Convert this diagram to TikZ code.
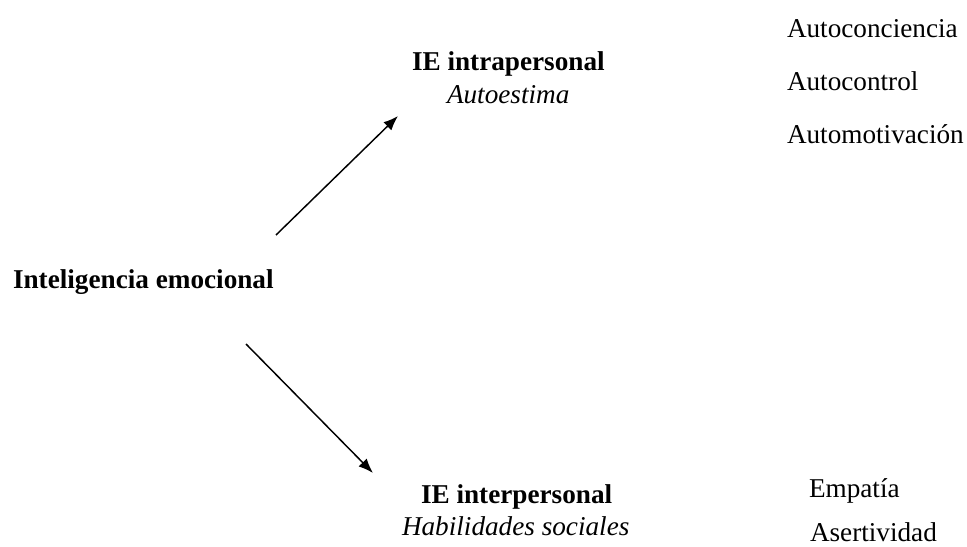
\documentclass[tikz,border=0pt]{standalone}
\usepackage{fontspec}
\setmainfont{Liberation Serif}
\usetikzlibrary{arrows.meta}
\tikzset{
  lbl/.style={anchor=base west, inner sep=0pt, outer sep=0pt, font=\fontsize{20.4}{24}\selectfont},
  hd/.style={lbl, font=\fontsize{20.4}{24}\selectfont\bfseries},
  sub/.style={lbl, font=\fontsize{20.4}{24}\selectfont\itshape},
  conn/.style={line width=1.1pt, -{Latex[length=11pt,width=8.5pt]}}
}
\begin{document}
\begin{tikzpicture}[x=0.75pt,y=-0.75pt]
\useasboundingbox (0,0) rectangle (967,546);
\node[hd] (ie) at (13,288) {Inteligencia emocional};
\node[hd] (intra) at (412,70) {IE intrapersonal};
\node[sub] (autoest) at (447,103) {Autoestima};
\node[hd] (inter) at (421,503) {IE interpersonal};
\node[sub] (habil) at (402,535) {Habilidades sociales};
\node[lbl] (conc) at (787,37) {Autoconciencia};
\node[lbl] (ctrl) at (787,90) {Autocontrol};
\node[lbl] (motiv) at (787,143) {Automotivación};
\node[lbl] (emp) at (809,497) {Empatía};
\node[lbl] (aser) at (810,541) {Asertividad};
\coordinate (a1s) at (276,235);
\coordinate (a1e) at (398,116);
\coordinate (a2s) at (246,344);
\coordinate (a2e) at (373,473);
\draw[conn] (a1s) -- (a1e);
\draw[conn] (a2s) -- (a2e);
\end{tikzpicture}
\end{document}
